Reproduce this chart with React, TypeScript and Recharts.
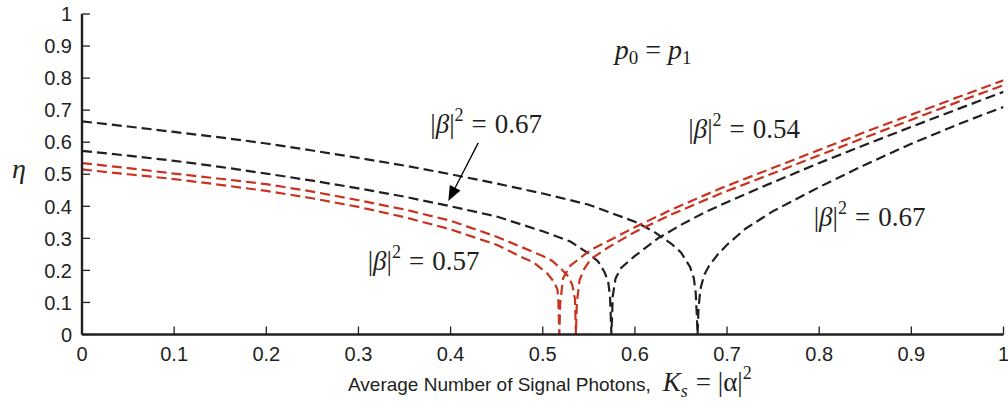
import { Line, LineChart, XAxis, YAxis } from "recharts";

// Colours and fonts used by the axes, curves and annotations.
const INK = "#231f20";
const FRAME = "#3a3a3a";
const RED = "#c8331f";
const SANS = "'Liberation Sans', Arial, Helvetica, sans-serif";
const SERIF = "'Liberation Serif', 'Times New Roman', serif";
const TICK_FONT_SIZE = 20;

const WIDTH = 1008;
const HEIGHT = 410;
const PLOT_LEFT = 82;
const PLOT_TOP = 14;
const PLOT_RIGHT = 1003.5;
const PLOT_BOTTOM = 334.5;

const TICKS = [0, 0.1, 0.2, 0.3, 0.4, 0.5, 0.6, 0.7, 0.8, 0.9, 1];

// efficiency curves, one pair of arrays per |β|² setting
const kBlackUpper = [
  0, 0.05, 0.1, 0.15, 0.2, 0.25, 0.3, 0.35, 0.4, 0.45, 0.5, 0.55, 0.6, 0.62, 0.64,
  0.65, 0.66, 0.664, 0.666, 0.667, 0.668, 0.669, 0.671, 0.675, 0.68, 0.69, 0.7,
  0.72, 0.75, 0.8, 0.85, 0.9, 0.95, 1,
];
const etaBlackUpper = [
  0.665, 0.649, 0.632, 0.615, 0.596, 0.574, 0.551, 0.527, 0.5, 0.471, 0.44, 0.405,
  0.352, 0.322, 0.282, 0.256, 0.21, 0.175, 0.13, 0.07, 0, 0.08, 0.14, 0.185, 0.212,
  0.25, 0.28, 0.33, 0.385, 0.46, 0.53, 0.595, 0.655, 0.71,
];

const kBlackLower = [
  0, 0.05, 0.1, 0.15, 0.2, 0.25, 0.3, 0.35, 0.4, 0.45, 0.5, 0.53, 0.55, 0.56,
  0.567, 0.571, 0.573, 0.5745, 0.576, 0.579, 0.585, 0.6, 0.625, 0.65, 0.675, 0.7,
  0.75, 0.8, 0.85, 0.9, 0.95, 1,
];
const etaBlackLower = [
  0.573, 0.558, 0.542, 0.523, 0.502, 0.48, 0.456, 0.43, 0.4, 0.368, 0.322, 0.29,
  0.252, 0.228, 0.195, 0.165, 0.12, 0, 0.12, 0.175, 0.208, 0.245, 0.3, 0.342, 0.38,
  0.413, 0.475, 0.535, 0.592, 0.648, 0.703, 0.757,
];

const kRedUpper = [
  0, 0.05, 0.1, 0.15, 0.2, 0.25, 0.3, 0.35, 0.4, 0.45, 0.476, 0.5, 0.51, 0.52,
  0.528, 0.532, 0.535, 0.536, 0.537, 0.54, 0.545, 0.552, 0.57, 0.6, 0.64, 0.693,
  0.75, 0.8, 0.85, 0.9, 0.95, 1,
];
const etaRedUpper = [
  0.535, 0.519, 0.502, 0.486, 0.469, 0.446, 0.419, 0.39, 0.355, 0.305, 0.274, 0.245,
  0.23, 0.205, 0.18, 0.155, 0.11, 0, 0.1, 0.17, 0.205, 0.235, 0.27, 0.32, 0.375,
  0.44, 0.503, 0.559, 0.615, 0.67, 0.725, 0.778,
];

const kRedLower = [
  0, 0.05, 0.1, 0.15, 0.2, 0.25, 0.3, 0.35, 0.4, 0.45, 0.476, 0.49, 0.505, 0.512,
  0.516, 0.517, 0.518, 0.519, 0.522, 0.53, 0.552, 0.57, 0.6, 0.64, 0.693, 0.75,
  0.8, 0.85, 0.9, 0.95, 1,
];
const etaRedLower = [
  0.515, 0.5, 0.485, 0.467, 0.448, 0.425, 0.398, 0.366, 0.328, 0.28, 0.243, 0.225,
  0.19, 0.165, 0.14, 0.1, 0, 0.1, 0.175, 0.215, 0.264, 0.29, 0.335, 0.39, 0.456,
  0.52, 0.576, 0.632, 0.686, 0.74, 0.793,
];

const toPoints = (k: number[], eta: number[]) =>
  k.map((value, i) => ({ k: value, eta: eta[i] }));

const CURVES = [
  { id: "black-upper", color: INK, data: toPoints(kBlackUpper, etaBlackUpper) },
  { id: "black-lower", color: INK, data: toPoints(kBlackLower, etaBlackLower) },
  { id: "red-upper", color: RED, data: toPoints(kRedUpper, etaRedUpper) },
  { id: "red-lower", color: RED, data: toPoints(kRedLower, etaRedLower) },
];

// annotation anchors in data units (K, η)
const BETA_LABELS = [
  { k: 0.378, eta: 0.63, text: "0.67" },
  { k: 0.658, eta: 0.613, text: "0.54" },
  { k: 0.31, eta: 0.201, text: "0.57" },
  { k: 0.794, eta: 0.339, text: "0.67" },
];
const ARROW_FROM = { k: 0.43, eta: 0.598 };
const ARROW_TO = { k: 0.3975, eta: 0.4165 };
const EQUAL_PRIORS = { k: 0.578, eta: 0.86 };

const px = (k: number) => PLOT_LEFT + k * (PLOT_RIGHT - PLOT_LEFT);
const py = (eta: number) => PLOT_BOTTOM - eta * (PLOT_BOTTOM - PLOT_TOP);

// tick labels drawn by hand so the font size sticks
function BottomTick({ x, y, payload }: any) {
  return (
    <text x={x} y={y} dy="0.71em" textAnchor="middle" fontFamily={SANS} fontSize={TICK_FONT_SIZE} fill={INK}>
      {payload.value}
    </text>
  );
}

function LeftTick({ x, y, payload }: any) {
  return (
    <text x={x} y={y} dy="0.36em" textAnchor="end" fontFamily={SANS} fontSize={TICK_FONT_SIZE} fill={INK}>
      {payload.value}
    </text>
  );
}

function BetaLabel({ k, eta, text }: { k: number; eta: number; text: string }) {
  return (
    <text x={px(k)} y={py(eta)} fontFamily={SERIF} fontSize={27} fill={INK}>
      |<tspan fontStyle="italic">β</tspan>|
      <tspan dy={-12} fontSize={18}>
        2
      </tspan>
      <tspan dy={12} dx={8}>
        =
      </tspan>
      <tspan dx={8}>{text}</tspan>
    </text>
  );
}

function Annotations() {
  const x1 = px(ARROW_FROM.k);
  const y1 = py(ARROW_FROM.eta);
  const x2 = px(ARROW_TO.k);
  const y2 = py(ARROW_TO.eta);
  const angle = Math.atan2(y2 - y1, x2 - x1);
  const head = 15;
  const half = 6;
  const bx = x2 - head * Math.cos(angle);
  const by = y2 - head * Math.sin(angle);
  const nx = -Math.sin(angle) * half;
  const ny = Math.cos(angle) * half;

  return (
    <svg
      width={WIDTH}
      height={HEIGHT}
      style={{ position: "absolute", left: 0, top: 0, pointerEvents: "none" }}
    >
      <text x={12} y={178} fontFamily={SERIF} fontStyle="italic" fontSize={28} fill={INK}>
        η
      </text>

      <text x={px(EQUAL_PRIORS.k)} y={py(EQUAL_PRIORS.eta)} fontFamily={SERIF} fontSize={28} fill={INK}>
        <tspan fontStyle="italic">p</tspan>
        <tspan dy={5} fontSize={19}>
          0
        </tspan>
        <tspan dy={-5} dx={7}>
          =
        </tspan>
        <tspan dx={7} fontStyle="italic">
          p
        </tspan>
        <tspan dy={5} fontSize={19}>
          1
        </tspan>
      </text>

      {BETA_LABELS.map((label, i) => (
        <BetaLabel key={i} {...label} />
      ))}

      <line x1={x1} y1={y1} x2={bx} y2={by} stroke="#000" strokeWidth={1.3} />
      <polygon
        points={`${x2},${y2} ${bx + nx},${by + ny} ${bx - nx},${by - ny}`}
        fill="#000"
      />

      <text x={348} y={391} fontFamily={SANS} fontSize={19} fill={INK}>
        Average Number of Signal Photons,
        <tspan dx={12} fontFamily={SERIF} fontStyle="italic" fontSize={27}>
          K
        </tspan>
        <tspan dy={6} fontFamily={SERIF} fontStyle="italic" fontSize={18}>
          s
        </tspan>
        <tspan dy={-6} dx={8} fontFamily={SERIF} fontSize={27}>
          = |α|
        </tspan>
        <tspan dy={-12} fontFamily={SERIF} fontSize={18}>
          2
        </tspan>
      </text>
    </svg>
  );
}

export default function App() {
  return (
    <div style={{ position: "absolute", left: 0, top: 0, width: WIDTH, height: HEIGHT, background: "#fff" }}>
      <LineChart
        width={WIDTH}
        height={HEIGHT}
        margin={{ top: PLOT_TOP, right: WIDTH - PLOT_RIGHT, bottom: 0, left: 0 }}
      >
        <XAxis
          xAxisId="bottom"
          type="number"
          dataKey="k"
          domain={[0, 1]}
          ticks={TICKS}
          interval={0}
          allowDataOverflow
          height={HEIGHT - PLOT_BOTTOM}
          tickSize={-8}
          tickMargin={20}
          tick={BottomTick}
          axisLine={{ stroke: INK, strokeWidth: 2.4 }}
          tickLine={{ stroke: INK, strokeWidth: 1.3 }}
        />
        <XAxis
          xAxisId="top"
          orientation="top"
          type="number"
          dataKey="k"
          domain={[0, 1]}
          ticks={TICKS}
          interval={0}
          allowDataOverflow
          height={0}
          tickSize={-8}
          tickFormatter={() => ""}
          axisLine={{ stroke: FRAME, strokeWidth: 2 }}
          tickLine={{ stroke: FRAME, strokeWidth: 1.3 }}
        />
        <YAxis
          yAxisId="left"
          type="number"
          domain={[0, 1]}
          ticks={TICKS}
          interval={0}
          allowDataOverflow
          width={PLOT_LEFT}
          tickSize={-8}
          tickMargin={18}
          tick={LeftTick}
          axisLine={{ stroke: INK, strokeWidth: 2.4 }}
          tickLine={{ stroke: INK, strokeWidth: 1.3 }}
        />
        <YAxis
          yAxisId="right"
          orientation="right"
          type="number"
          domain={[0, 1]}
          ticks={TICKS}
          interval={0}
          allowDataOverflow
          width={0}
          tickSize={-8}
          tickFormatter={() => ""}
          axisLine={{ stroke: FRAME, strokeWidth: 2 }}
          tickLine={{ stroke: FRAME, strokeWidth: 1.3 }}
        />
        {CURVES.map((curve) => (
          <Line
            key={curve.id}
            xAxisId="bottom"
            yAxisId="left"
            data={curve.data}
            dataKey="eta"
            type="linear"
            stroke={curve.color}
            strokeWidth={2.2}
            strokeDasharray="10 5"
            dot={false}
            activeDot={false}
            isAnimationActive={false}
          />
        ))}
      </LineChart>
      <Annotations />
    </div>
  );
}
